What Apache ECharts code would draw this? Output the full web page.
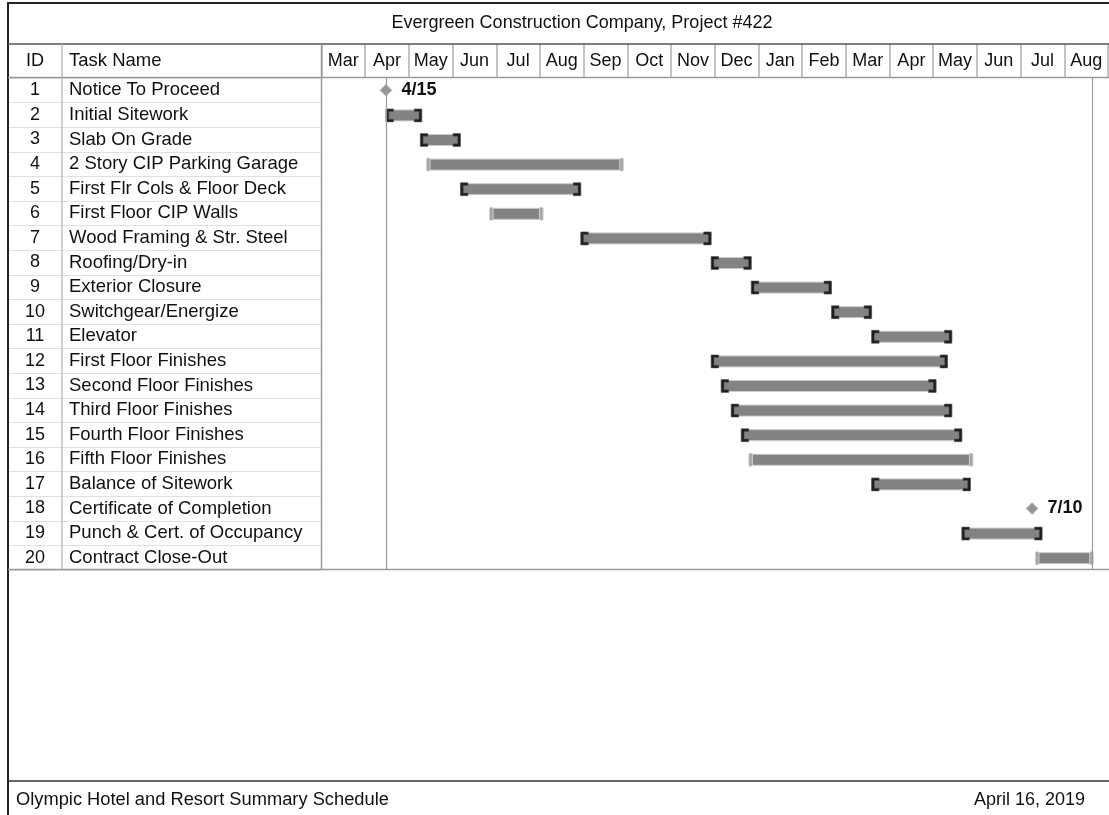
<!DOCTYPE html>
<html>
<head>
<meta charset="utf-8">
<script src="https://cdn.jsdelivr.net/npm/echarts@6/dist/echarts.min.js"></script>
<style>html,body{margin:0;padding:0;background:#fff}#c{width:1109px;height:815px}</style>
</head>
<body>
<div id="c"></div>
<script>
// ---------- data ----------
const taskIds = [1,2,3,4,5,6,7,8,9,10,11,12,13,14,15,16,17,18,19,20];
const taskNames = [
  'Notice To Proceed','Initial Sitework','Slab On Grade','2 Story CIP Parking Garage',
  'First Flr Cols & Floor Deck','First Floor CIP Walls','Wood Framing & Str. Steel',
  'Roofing/Dry-in','Exterior Closure','Switchgear/Energize','Elevator',
  'First Floor Finishes','Second Floor Finishes','Third Floor Finishes',
  'Fourth Floor Finishes','Fifth Floor Finishes','Balance of Sitework',
  'Certificate of Completion','Punch & Cert. of Occupancy','Contract Close-Out'
];
const taskStarts = ['2018-04-15','2018-04-15','2018-05-09','2018-05-14','2018-06-06','2018-06-27',
  '2018-08-29','2018-11-28','2018-12-26','2019-02-20','2019-03-20','2018-11-28','2018-12-05',
  '2018-12-12','2018-12-19','2018-12-25','2019-03-20','2019-07-10','2019-05-22','2019-07-13'];
const taskEnds = [null,'2018-05-10','2018-06-06','2018-09-27','2018-08-29','2018-08-02',
  '2018-11-28','2018-12-26','2019-02-20','2019-03-20','2019-05-15','2019-05-12','2019-05-04',
  '2019-05-15','2019-05-22','2019-05-29','2019-05-28',null,'2019-07-17','2019-08-21'];
const taskKinds = ['milestone','bracket','bracket','plain','bracket','plain','bracket','bracket',
  'bracket','bracket','bracket','bracket','bracket','bracket','bracket','plain','bracket',
  'milestone','bracket','plain'];
const monthLabels = ['Mar','Apr','May','Jun','Jul','Aug','Sep','Oct','Nov','Dec','Jan','Feb',
  'Mar','Apr','May','Jun','Jul','Aug'];
const timelineStart = '2018-03-01';
const timelineEnd = '2019-09-01';
const projectStart = '2018-04-15';
const projectFinish = '2019-08-21';
const titleText = 'Evergreen Construction Company, Project #422';
const footerLeft = 'Olympic Hotel and Resort Summary Schedule';
const footerRight = 'April 16, 2019';

// ---------- helpers ----------
const t = s => { const [y, m, d] = s.split('-').map(Number); return new Date(y, m - 1, d).getTime(); };
const FONT = '"Liberation Sans", Arial, Helvetica, sans-serif';
const TXT = '#111';

const barData = [];
const mileData = [];
taskIds.forEach((id, i) => {
  if (taskKinds[i] === 'milestone') {
    mileData.push({ value: [t(taskStarts[i]), i], dateStr: taskStarts[i] });
  } else {
    barData.push([i, t(taskStarts[i]), t(taskEnds[i]), taskKinds[i] === 'bracket' ? 1 : 0]);
  }
});

function renderBar(params, api) {
  const row = api.value(0);
  const p1 = api.coord([api.value(1), row]);
  const p2 = api.coord([api.value(2), row]);
  const c = p1[1] + 0.5;
  const x1 = p1[0], x2 = p2[0];
  const children = [{
    type: 'rect',
    shape: { x: x1, y: c - 5.5, width: x2 - x1, height: 11 },
    style: { fill: '#838383', stroke: '#cbcbcb', lineWidth: 1 }
  }];
  if (api.value(3) === 1) {
    const L = [[x1, c - 6.5], [x1 + 7.5, c - 6.5], [x1 + 7.5, c - 3.8], [x1 + 2.8, c - 3.8], [x1 + 2.8, c + 3.8],
               [x1 + 7.5, c + 3.8], [x1 + 7.5, c + 6.5], [x1, c + 6.5]];
    const R = L.map(p => [x2 - (p[0] - x1), p[1]]);
    [L, R].forEach(pts => children.push({
      type: 'polygon', shape: { points: pts },
      style: { fill: '#1d1d1d', stroke: '#5a5a5a', lineWidth: 0.6 }
    }));
  } else {
    [x1 - 1, x2 - 2.5].forEach(x => children.push({
      type: 'rect', shape: { x: x, y: c - 6.5, width: 3.5, height: 13, r: 1.2 },
      style: { fill: '#a4a4a4', stroke: '#d2d2d2', lineWidth: 1 }
    }));
  }
  return { type: 'group', children };
}

const line = (x1, y1, x2, y2, color, w) => ({
  type: 'line', silent: true, z: 100,
  shape: { x1, y1, x2, y2 }, style: { stroke: color, lineWidth: w }
});
const text = (x, y, s, align, size) => ({
  type: 'text', silent: true, z: 100, x, y,
  style: { text: s, font: (size || 18) + 'px ' + FONT, fill: TXT, align: align, verticalAlign: 'middle' }
});

const chart = echarts.init(document.getElementById('c'));
chart.setOption({
  animation: false,
  backgroundColor: '#fff',
  textStyle: { fontFamily: FONT, color: TXT },
  grid: [
    { left: 321.5, right: 1, top: 44, height: 34 },   // month header
    { left: 8, width: 313.5, top: 78, height: 492 },   // task table
    { left: 321.5, right: 1, top: 78, height: 492 }    // gantt area
  ],
  xAxis: [
    {
      gridIndex: 0, type: 'category', position: 'top', boundaryGap: true,
      data: monthLabels.map((m, i) => String(i)),
      axisLine: { show: false }, axisTick: { show: false },
      splitLine: { show: true, interval: 0, lineStyle: { color: '#b0b0b0', width: 1.5 } },
      axisLabel: {
        inside: true, interval: 0, margin: 17, verticalAlign: 'middle',
        fontSize: 18, fontFamily: FONT, color: TXT,
        formatter: (v, i) => monthLabels[i]
      }
    },
    { gridIndex: 1, type: 'value', min: 0, max: 1, show: false },
    { gridIndex: 2, type: 'time', min: t(timelineStart), max: t(timelineEnd), show: false }
  ],
  yAxis: [
    { gridIndex: 0, type: 'value', show: false },
    {
      gridIndex: 1, type: 'category', inverse: true,
      data: taskIds.map(String),
      axisLine: { show: false }, axisTick: { show: false },
      splitLine: { show: true, interval: 0, lineStyle: { color: '#e0e0e0', width: 1 } },
      axisLabel: {
        inside: true, margin: 0, align: 'left', interval: 0,
        formatter: (v, i) => '{id|' + taskIds[i] + '}{nm|' + taskNames[i] + '}',
        rich: {
          id: { width: 54, align: 'center', fontSize: 18, fontFamily: FONT, color: TXT },
          nm: { padding: [0, 0, 0, 7], fontSize: 18.5, fontFamily: FONT, color: TXT }
        }
      }
    },
    { gridIndex: 2, type: 'category', inverse: true, data: taskIds.map(String), show: false }
  ],
  series: [
    {
      type: 'custom', xAxisIndex: 2, yAxisIndex: 2,
      renderItem: renderBar, data: barData,
      encode: { x: [1, 2], y: 0 }
    },
    {
      type: 'scatter', xAxisIndex: 2, yAxisIndex: 2,
      symbol: 'diamond', symbolSize: 12,
      itemStyle: { color: '#949494', borderColor: '#c8c8c8', borderWidth: 1, opacity: 1 },
      label: {
        show: true, position: 'right', distance: 9,
        fontSize: 18, fontWeight: 'bold', fontFamily: FONT, color: TXT,
        formatter: p => { const [y, m, d] = p.data.dateStr.split('-').map(Number); return m + '/' + d; }
      },
      data: mileData,
      markLine: {
        silent: true, symbol: ['none', 'none'], label: { show: false },
        lineStyle: { color: '#9c9c9c', width: 1.2, type: 'solid' },
        data: [{ xAxis: t(projectStart) }, { xAxis: t(projectFinish) }]
      }
    }
  ],
  graphic: [
    line(8, 2, 8, 815, '#222', 2),
    line(7, 3, 1109, 3, '#222', 2),
    line(8, 44, 1109, 44, '#555', 1.5),
    line(8, 77.5, 1109, 77.5, '#9a9a9a', 1.5),
    line(62, 44, 62, 570, '#b0b0b0', 1.2),
    line(321.5, 44, 321.5, 570, '#9a9a9a', 1.5),
    line(8, 569.5, 1109, 569.5, '#9a9a9a', 1.5),
    line(8, 781, 1109, 781, '#333', 1.5),
    text(582, 23, titleText, 'center'),
    text(35, 61, 'ID', 'center'),
    text(69, 61, 'Task Name', 'left', 18.5),
    text(16, 800, footerLeft, 'left', 18.3),
    text(1085, 800, footerRight, 'right')
  ]
});
</script>
</body>
</html>
